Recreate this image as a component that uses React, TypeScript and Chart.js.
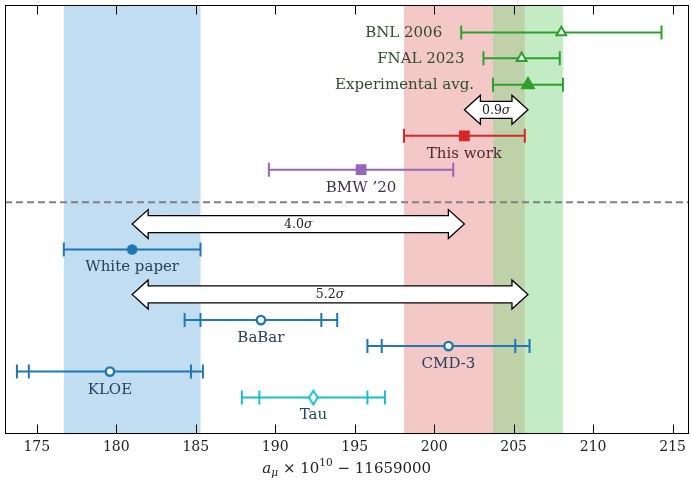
import React, { useEffect, useRef } from "react";
import Chart from "chart.js/auto";

// ---------- axis ----------
const X_MIN = 173;
const X_MAX = 216;
const Y_MIN = 0;
const Y_MAX = 43;
const xTickValues = [175, 180, 185, 190, 195, 200, 205, 210, 215];

// ---------- experimental measurements ----------
const expNames = ["BNL 2006", "FNAL 2023", "Experimental avg."];
const expValues = [208.0, 205.5, 205.9];
const expErrors = [6.3, 2.4, 2.2];
const expRows = [40.25, 37.67, 35.0];
const expFilled = [false, false, true];

// ---------- theory (lattice / white paper) ----------
const theoNames = ["This work", "BMW ’20", "White paper"];
const theoValues = [201.9, 195.4, 181.0];
const theoErrors = [3.8, 5.8, 4.3];
const theoRows = [29.9, 26.5, 18.5];

// ---------- data-driven ----------
const ddNames = ["BaBar", "CMD-3", "KLOE", "Tau"];
const ddValues = [189.1, 200.9, 179.6, 192.4];
const ddInnerErrors = [3.8, 4.2, 5.1, 3.4];
const ddOuterErrors = [4.8, 5.1, 5.85, 4.5];
const ddRows = [11.43, 8.83, 6.27, 3.67];

// ---------- tensions ----------
const tensionNumbers = ["0.9", "4.0", "5.2"];
const tensionFrom = [201.9, 181.0, 181.0];
const tensionTo = [205.9, 201.9, 205.9];
const tensionRows = [32.5, 21.05, 14.0];

const separatorRow = 23.23;

// ---------- colours ----------
const C_BLUE = "#1f77b4";
const C_GREEN = "#2ca02c";
const C_RED = "#d62728";
const C_PURPLE = "#9467bd";
const C_CYAN = "#17becf";
const T_BLUE = "#22425e";
const T_GREEN = "#2f4d2f";
const T_RED = "#4f2b2b";
const T_PURPLE = "#3e3350";
const T_CYAN = "#1f4b52";

const theoColors = [C_RED, C_PURPLE, C_BLUE];
const theoTextColors = [T_RED, T_PURPLE, T_BLUE];
const ddColors = [C_BLUE, C_BLUE, C_BLUE, C_CYAN];
const ddTextColors = [T_BLUE, T_BLUE, T_BLUE, T_CYAN];

const FONT = "'DejaVu Serif'";

function makeDiamond(color: string) {
  const c = document.createElement("canvas");
  c.width = 12;
  c.height = 17;
  const g = c.getContext("2d")!;
  g.beginPath();
  g.moveTo(6, 1.5);
  g.lineTo(10.3, 8.5);
  g.lineTo(6, 15.5);
  g.lineTo(1.7, 8.5);
  g.closePath();
  g.fillStyle = "#ffffff";
  g.fill();
  g.lineWidth = 2;
  g.strokeStyle = color;
  g.stroke();
  return c;
}

function errorBar(lo: number, hi: number, y: number, color: string, showLine = true) {
  return {
    type: "scatter",
    data: [
      { x: lo, y },
      { x: hi, y },
    ],
    showLine,
    borderColor: color,
    borderWidth: 2,
    pointStyle: "line",
    pointRotation: 90,
    pointRadius: 7,
    pointBorderWidth: 2,
    pointBorderColor: color,
    pointBackgroundColor: color,
    order: 1,
  };
}

function marker(x: number, y: number, style: any, color: string, filled: boolean, radius: number, bw = 2) {
  return {
    type: "scatter",
    data: [{ x, y }],
    showLine: false,
    pointStyle: style,
    pointRadius: radius,
    pointBorderWidth: bw,
    pointBorderColor: color,
    pointBackgroundColor: filled ? color : "#ffffff",
    order: 0,
  };
}

function drawDoubleArrow(ctx: CanvasRenderingContext2D, x1: number, x2: number, y: number, num: string) {
  const bh = 8.5;
  const hh = 14.5;
  const hl = 16;
  ctx.save();
  ctx.beginPath();
  ctx.moveTo(x1, y);
  ctx.lineTo(x1 + hl, y - hh);
  ctx.lineTo(x1 + hl, y - bh);
  ctx.lineTo(x2 - hl, y - bh);
  ctx.lineTo(x2 - hl, y - hh);
  ctx.lineTo(x2, y);
  ctx.lineTo(x2 - hl, y + hh);
  ctx.lineTo(x2 - hl, y + bh);
  ctx.lineTo(x1 + hl, y + bh);
  ctx.lineTo(x1 + hl, y + hh);
  ctx.closePath();
  ctx.fillStyle = "#ffffff";
  ctx.fill();
  ctx.lineWidth = 1.3;
  ctx.lineJoin = "miter";
  ctx.strokeStyle = "#000000";
  ctx.stroke();
  // label
  ctx.fillStyle = "#222222";
  ctx.textBaseline = "middle";
  ctx.textAlign = "left";
  ctx.font = `12.5px ${FONT}`;
  const w1 = ctx.measureText(num).width;
  ctx.font = `italic 12.5px ${FONT}`;
  const w2 = ctx.measureText("σ").width;
  const sx = (x1 + x2) / 2 - (w1 + w2) / 2;
  ctx.font = `12.5px ${FONT}`;
  ctx.fillText(num, sx, y + 0.5);
  ctx.font = `italic 12.5px ${FONT}`;
  ctx.fillText("σ", sx + w1, y + 0.5);
  ctx.restore();
}

const decorPlugin = {
  id: "decor",
  beforeDatasetsDraw(chart: any) {
    const { ctx, chartArea, scales } = chart;
    const xs = scales.x;
    const top = chartArea.top;
    const h = chartArea.bottom - chartArea.top;
    const band = (c: number, e: number, color: string) => {
      const a = xs.getPixelForValue(c - e);
      const b = xs.getPixelForValue(c + e);
      ctx.fillStyle = color;
      ctx.fillRect(a, top, b - a, h);
    };
    ctx.save();
    band(theoValues[2], theoErrors[2], "#c1ddf2");
    band(theoValues[0], theoErrors[0], "#f5c8c8");
    band(expValues[2], expErrors[2], "rgba(137,217,137,0.5)");
    ctx.restore();
  },
  afterDatasetsDraw(chart: any) {
    const { ctx, chartArea, scales } = chart;
    const xs = scales.x;
    const ys = scales.y;
    ctx.save();
    // tension arrows
    for (let i = 0; i < tensionNumbers.length; i++) {
      drawDoubleArrow(
        ctx,
        xs.getPixelForValue(tensionFrom[i]),
        xs.getPixelForValue(tensionTo[i]),
        ys.getPixelForValue(tensionRows[i]),
        tensionNumbers[i]
      );
    }
    // labels
    ctx.font = `15px ${FONT}`;
    ctx.textBaseline = "middle";
    ctx.textAlign = "right";
    ctx.fillStyle = T_GREEN;
    for (let i = 0; i < expNames.length; i++) {
      ctx.fillText(
        expNames[i],
        xs.getPixelForValue(expValues[i] - expErrors[i]) - 19,
        ys.getPixelForValue(expRows[i]) + 0.5
      );
    }
    ctx.textAlign = "center";
    for (let i = 0; i < theoNames.length; i++) {
      ctx.fillStyle = theoTextColors[i];
      ctx.fillText(theoNames[i], xs.getPixelForValue(theoValues[i]), ys.getPixelForValue(theoRows[i]) + 18);
    }
    for (let i = 0; i < ddNames.length; i++) {
      ctx.fillStyle = ddTextColors[i];
      ctx.fillText(ddNames[i], xs.getPixelForValue(ddValues[i]), ys.getPixelForValue(ddRows[i]) + 18);
    }
    // frame
    ctx.strokeStyle = "#000000";
    ctx.lineWidth = 1;
    const L = Math.round(chartArea.left) + 0.5;
    const R = Math.round(chartArea.right) - 0.5;
    const T = Math.round(chartArea.top) + 0.5;
    const B = Math.round(chartArea.bottom) - 0.5;
    ctx.strokeRect(L, T, R - L, B - T);
    // inward ticks top and bottom
    ctx.beginPath();
    for (const t of xs.ticks) {
      const px = Math.round(xs.getPixelForValue(t.value)) + 0.5;
      ctx.moveTo(px, T);
      ctx.lineTo(px, T + 9);
      ctx.moveTo(px, B);
      ctx.lineTo(px, B - 9);
    }
    ctx.stroke();
    // axis title
    const parts: [string, string, number][] = [
      ["a", `italic 15px ${FONT}`, 0],
      ["μ", `italic 10.5px ${FONT}`, 4],
      [" × 10", `15px ${FONT}`, 0],
      ["10", `10.5px ${FONT}`, -6],
      [" − 11659000", `15px ${FONT}`, 0],
    ];
    let total = 0;
    const widths: number[] = [];
    for (const p of parts) {
      ctx.font = p[1];
      const w = ctx.measureText(p[0]).width;
      widths.push(w);
      total += w;
    }
    let cx = (chartArea.left + chartArea.right) / 2 - total / 2;
    const ty = 469;
    ctx.fillStyle = "#222222";
    ctx.textAlign = "left";
    ctx.textBaseline = "middle";
    parts.forEach((p, i) => {
      ctx.font = p[1];
      ctx.fillText(p[0], cx, ty + p[2]);
      cx += widths[i];
    });
    ctx.restore();
  },
};

export default function App() {
  const ref = useRef<HTMLCanvasElement | null>(null);

  useEffect(() => {
    if (!ref.current) return;
    const datasets: any[] = [];

    // separator line
    datasets.push({
      type: "scatter",
      data: [
        { x: X_MIN, y: separatorRow },
        { x: X_MAX, y: separatorRow },
      ],
      showLine: true,
      borderColor: "#808080",
      borderWidth: 2,
      borderDash: [7, 4],
      pointRadius: 0,
      order: 2,
    });

    // experiments
    for (let i = 0; i < expNames.length; i++) {
      datasets.push(errorBar(expValues[i] - expErrors[i], expValues[i] + expErrors[i], expRows[i], C_GREEN));
      datasets.push(
        marker(expValues[i], expRows[i], "triangle", C_GREEN, expFilled[i], expFilled[i] ? 6.8 : 5.6, 2)
      );
    }
    // theory
    for (let i = 0; i < theoNames.length; i++) {
      datasets.push(errorBar(theoValues[i] - theoErrors[i], theoValues[i] + theoErrors[i], theoRows[i], theoColors[i]));
      if (i < 2) {
        datasets.push(marker(theoValues[i], theoRows[i], "rect", theoColors[i], true, 7.6, 0));
      } else {
        datasets.push(marker(theoValues[i], theoRows[i], "circle", theoColors[i], true, 5.3, 0));
      }
    }
    // data-driven
    const diamond = makeDiamond(C_CYAN);
    for (let i = 0; i < ddNames.length; i++) {
      datasets.push(errorBar(ddValues[i] - ddOuterErrors[i], ddValues[i] + ddOuterErrors[i], ddRows[i], ddColors[i]));
      datasets.push(errorBar(ddValues[i] - ddInnerErrors[i], ddValues[i] + ddInnerErrors[i], ddRows[i], ddColors[i], false));
      if (ddNames[i] === "Tau") {
        datasets.push(marker(ddValues[i], ddRows[i], diamond, ddColors[i], false, 8, 2));
      } else {
        datasets.push(marker(ddValues[i], ddRows[i], "circle", ddColors[i], false, 4.2, 2.4));
      }
    }

    const chart = new Chart(ref.current, {
      type: "scatter",
      data: { datasets },
      options: {
        animation: false,
        responsive: true,
        maintainAspectRatio: false,
        events: [],
        layout: { autoPadding: false, padding: { left: 5, right: 1, top: 5, bottom: 20 } },
        plugins: {
          legend: { display: false },
          tooltip: { enabled: false },
          title: { display: false },
        },
        scales: {
          x: {
            type: "linear",
            min: X_MIN,
            max: X_MAX,
            afterBuildTicks: (scale: any) => {
              scale.ticks = xTickValues.map((v) => ({ value: v }));
            },
            grid: { display: false, drawTicks: false },
            border: { display: false },
            ticks: {
              padding: 5,
              color: "#222222",
              font: { family: FONT, size: 14 },
              maxRotation: 0,
              autoSkip: false,
              callback: (v: any) => String(v),
            },
          },
          y: {
            type: "linear",
            min: Y_MIN,
            max: Y_MAX,
            display: false,
          },
        },
      } as any,
      plugins: [decorPlugin],
    } as any);

    return () => chart.destroy();
  }, []);

  return (
    <div style={{ position: "fixed", left: 0, top: 0, width: 691, height: 481, background: "#ffffff" }}>
      <canvas ref={ref} />
    </div>
  );
}
